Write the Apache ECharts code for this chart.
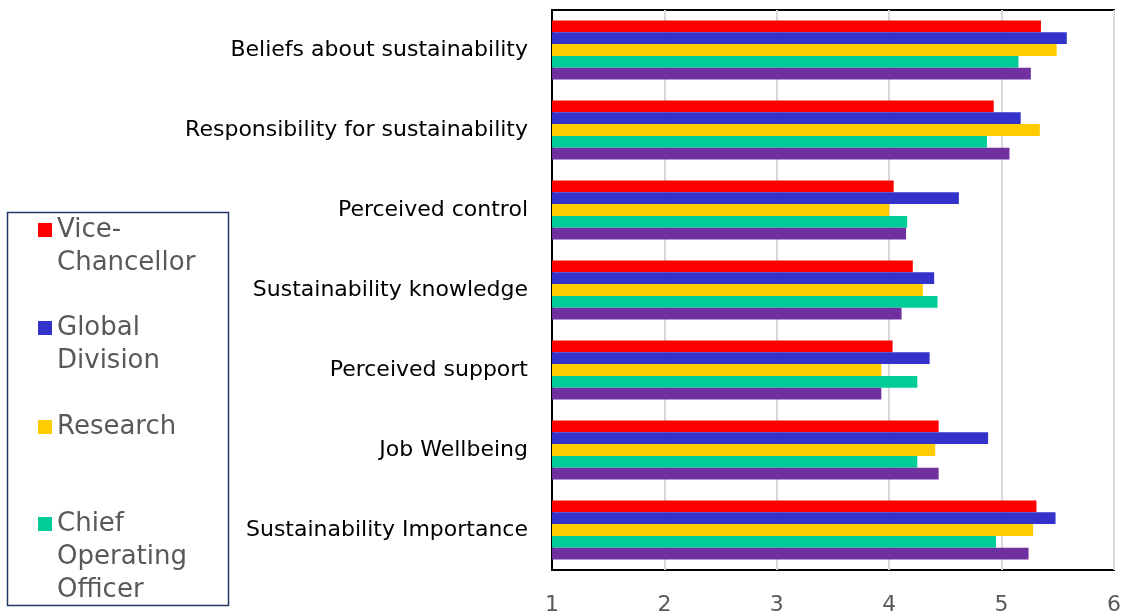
<!DOCTYPE html>
<html>
<head>
<meta charset="utf-8">
<script src="https://cdn.jsdelivr.net/npm/echarts@6/dist/echarts.min.js"></script>
<style>
  html, body { margin: 0; padding: 0; background: #fff; }
  #chart { width: 1129px; height: 612px; }
</style>
</head>
<body>
<div id="chart"></div>
<script>
// Survey dimensions, listed top to bottom
const categories = [
  'Beliefs about sustainability',
  'Responsibility for sustainability',
  'Perceived control',
  'Sustainability knowledge',
  'Perceived support',
  'Job Wellbeing',
  'Sustainability Importance'
];

// Mean scores per group
const viceChancellor = [5.35, 4.93, 4.04, 4.21, 4.03, 4.44, 5.31];
const globalDivision = [5.58, 5.17, 4.62, 4.40, 4.36, 4.88, 5.48];
const research       = [5.49, 5.34, 4.00, 4.30, 3.93, 4.41, 5.28];
const chiefOperating = [5.15, 4.87, 4.16, 4.43, 4.25, 4.25, 4.95];
const otherGroup     = [5.26, 5.07, 4.15, 4.11, 3.93, 4.44, 5.24];

const xTicks = [1, 2, 3, 4, 5, 6];

const FONT = '"DejaVu Sans", sans-serif';
const LINE_H = 33;

// Legend entries: name, colour, centre of the marker
const legendItems = [
  { name: 'Vice-Chancellor', text: 'Vice-\nChancellor', color: '#FF0000', cy: 230 },
  { name: 'Global Division', text: 'Global\nDivision', color: '#3333CC', cy: 328 },
  { name: 'Research', text: 'Research', color: '#FFCC00', cy: 427 },
  { name: 'Chief Operating Officer', text: 'Chief\nOperating\nOfficer', color: '#00CC99', cy: 524 }
];

// Each legend item gets its own component so multi-line labels hang from the marker
const legends = legendItems.map(it => {
  const n = it.text.split('\n').length;
  const label = '\n'.repeat(n - 1) + it.text;
  return {
    data: [it.name],
    orient: 'vertical',
    left: 38,
    top: it.cy - (2 * n - 1) * LINE_H / 2,
    padding: 0,
    itemWidth: 14,
    itemHeight: 14,
    icon: 'rect',
    selectedMode: false,
    formatter: () => label,
    textStyle: { color: '#595959', fontSize: 26, fontFamily: FONT, lineHeight: LINE_H }
  };
});

function barSeries(name, data, color) {
  return {
    name, type: 'bar', data,
    barGap: '0%', barCategoryGap: '26%',
    itemStyle: { color },
    emphasis: { disabled: true }
  };
}

const chart = echarts.init(document.getElementById('chart'), null, { renderer: 'canvas' });
chart.setOption({
  animation: false,
  backgroundColor: '#fff',
  grid: {
    left: 552, right: 15, top: 10, bottom: 42,
    outerBoundsMode: 'none',
    containLabel: false,
    show: true, borderColor: '#000', borderWidth: 2
  },
  legend: legends,
  graphic: [{
    type: 'rect',
    shape: { x: 7.5, y: 212.5, width: 221, height: 393 },
    style: { fill: 'none', stroke: '#1F3864', lineWidth: 1.5 },
    z: 0
  }],
  xAxis: {
    type: 'value', min: xTicks[0], max: xTicks[xTicks.length - 1], interval: 1,
    axisLine: { show: false },
    axisTick: { show: false },
    splitLine: { show: true, lineStyle: { color: '#D9D9D9', width: 2 } },
    axisLabel: {
      color: '#595959', fontSize: 22, fontFamily: FONT, margin: 24,
      formatter: v => xTicks.includes(v) ? String(v) : ''
    }
  },
  yAxis: {
    type: 'category', data: categories, inverse: true,
    axisLine: { show: true, lineStyle: { color: '#000', width: 2 } },
    axisTick: { show: false },
    axisLabel: { color: '#000', fontSize: 22, fontFamily: FONT, margin: 24, padding: [6, 0, 0, 0] }
  },
  series: [
    barSeries('Vice-Chancellor', viceChancellor, '#FF0000'),
    barSeries('Global Division', globalDivision, '#3333CC'),
    barSeries('Research', research, '#FFCC00'),
    barSeries('Chief Operating Officer', chiefOperating, '#00CC99'),
    barSeries('Other', otherGroup, '#7030A0')
  ]
});
</script>
</body>
</html>
